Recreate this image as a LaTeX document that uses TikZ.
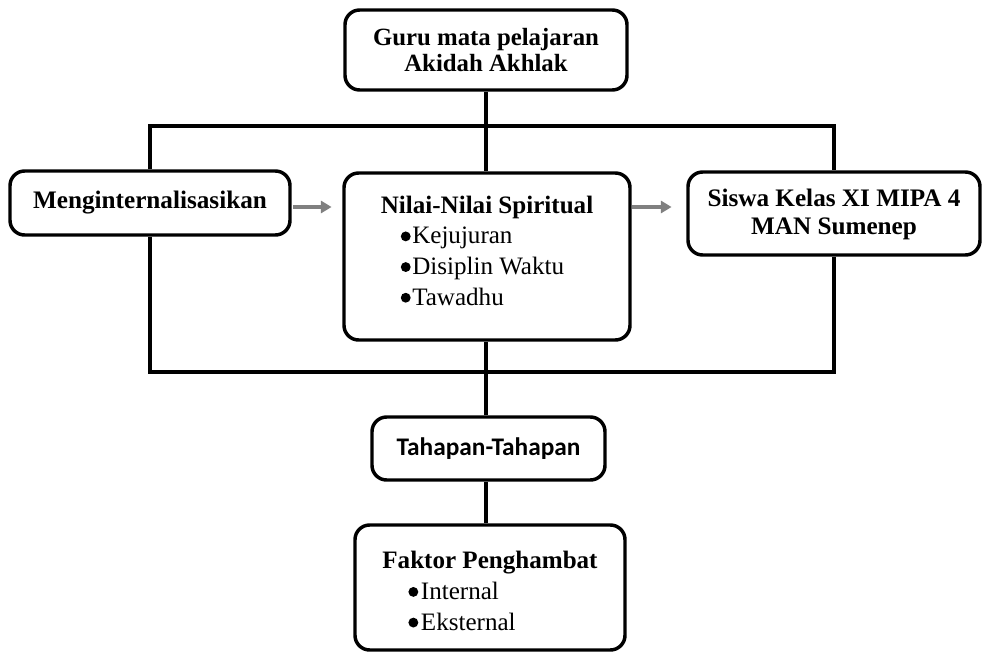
\documentclass[tikz,border=0pt]{standalone}
\usepackage{fontspec}
\setmainfont{Liberation Serif}
\newfontfamily\calib{Carlito}
\usetikzlibrary{arrows.meta}
\newcommand\bul{\tikz[x=1pt,y=1pt,baseline=0pt]\fill (0,5.6) circle (3.7pt);}
\begin{document}
\begin{tikzpicture}[x=0.75pt,y=-0.75pt,
  box/.style={draw, line width=2.6pt, rounded corners=11pt, fill=white,
    inner sep=0pt},
  conn/.style={line width=2.3pt},
  arr/.style={draw={rgb,255:red,128;green,128;blue,128}, line width=3pt,
    -{Triangle[length=8pt,width=9pt]}}]
\useasboundingbox (0,0) rectangle (983,653);
\coordinate (top) at (485,126);
\coordinate (bot) at (485,372);
\node[box, align=center, minimum width=211.5pt, minimum height=60pt,
  font=\fontsize{18.6}{19.5}\selectfont] (guru) at (486,50)
  {\textbf{Guru mata pelajaran}\\\textbf{Akidah Akhlak}};
\node[box, align=center, minimum width=210pt, minimum height=48pt,
  font=\fontsize{18.9}{21}\selectfont] (ment) at (150,203)
  {\textbf{Menginternalisasikan}};
\node[box, align=left, minimum width=214.5pt, minimum height=125.25pt,
  font=\fontsize{18.8}{23}\selectfont] (nilai) at (487,256.5)
  {\textbf{Nilai-Nilai Spiritual}\\\hspace*{15pt}\bul\hspace{1.2pt}Kejujuran\\\hspace*{15pt}\bul\hspace{1.2pt}Disiplin Waktu\\\hspace*{15pt}\bul\hspace{1.2pt}Tawadhu\rule[-9pt]{0pt}{9pt}};
\node[box, align=center, minimum width=219pt, minimum height=62.25pt,
  font=\fontsize{18.9}{21}\selectfont] (siswa) at (834,213.5)
  {\rule{0pt}{15pt}\textbf{Siswa Kelas XI MIPA 4}\\\textbf{MAN Sumenep}};
\node[box, align=center, minimum width=174.75pt, minimum height=47.25pt,
  font=\calib\fontsize{19}{22}\selectfont] (tahap) at (488.5,448.5)
  {\textbf{Tahapan-Tahapan}};
\node[box, align=left, minimum width=202.5pt, minimum height=93.75pt,
  font=\fontsize{18.8}{23}\selectfont] (faktor) at (490,587.5)
  {\rule{0pt}{18pt}\textbf{Faktor Penghambat}\\\hspace*{19.5pt}\bul\hspace{2pt}Internal\\\hspace*{19.5pt}\bul\hspace{2pt}Eksternal};
% connectors
\draw[conn] (guru.south) -- (guru.south |- nilai.north);
\draw[conn] (ment.north) -- (ment.north |- top) -- (siswa.north |- top) -- (siswa.north);
\draw[conn] (ment.south) -- (ment.south |- bot) -- (siswa.south |- bot) -- (siswa.south);
\draw[conn] (guru.south |- nilai.south) -- (guru.south |- tahap.north);
\draw[conn] (guru.south |- tahap.south) -- (guru.south |- faktor.north);
\draw[arr, shorten <=1pt, shorten >=8pt] ([yshift=-3pt]ment.east) -- ([yshift=-3pt]nilai.west |- ment.east);
\draw[arr, shorten >=11pt] ([yshift=-3pt]nilai.east |- ment.east) -- ([yshift=-3pt]siswa.west |- ment.east);
\end{tikzpicture}
\end{document}
